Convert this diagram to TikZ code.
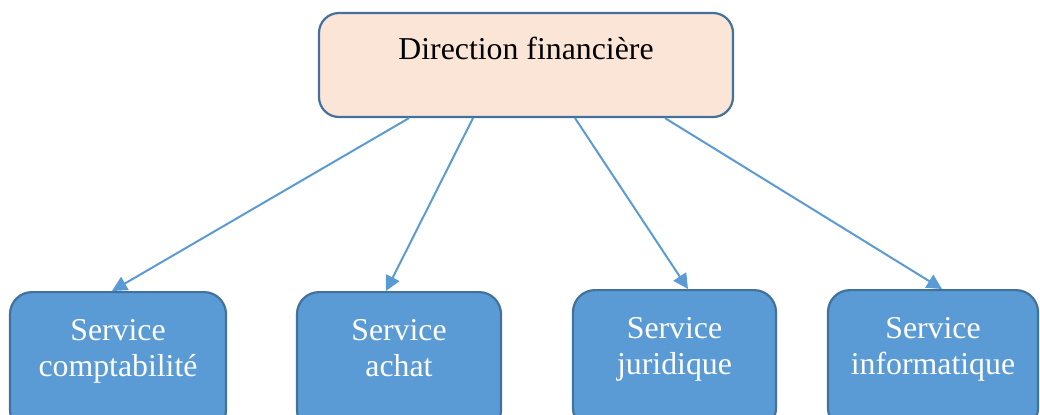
\documentclass[tikz,border=0pt]{standalone}
\usepackage{fontspec}
\setmainfont{Liberation Serif}
\usetikzlibrary{arrows.meta}
\definecolor{peach}{HTML}{FBE5D6}
\definecolor{bord}{HTML}{41719C}
\definecolor{accent}{HTML}{5B9BD5}
\begin{document}
\begin{tikzpicture}[x=0.5pt,y=-0.5pt,
  topbox/.style={draw=bord, fill=peach, line width=1.1pt, rounded corners=10pt,
    inner sep=0pt, minimum width=207pt, text height=23pt, text depth=29pt,
    font=\fontsize{15.9}{18}\selectfont, text=black},
  servbox/.style={draw=bord, fill=accent, line width=1.1pt, rounded corners=11pt,
    inner sep=0pt, text height=42pt, text depth=28pt, align=center, anchor=north,
    font=\fontsize{15.9}{18}\selectfont, text=white},
  link/.style={draw=accent, line width=1pt, -{Triangle[length=7.5pt,width=7.5pt]}}]
\useasboundingbox (0,0) rectangle (1040,414);
\clip (0,0) rectangle (1040,414);
\node[topbox] (dir) at (526,65) {Direction financière};
\node[servbox, minimum width=108pt] (c1) at (118,291) {Service\\comptabilité};
\node[servbox, minimum width=102pt] (c2) at (399,291) {Service\\achat};
\node[servbox, minimum width=101.5pt] (c3) at (674.5,289) {Service\\juridique};
\node[servbox, minimum width=105pt] (c4) at (933,289) {Service\\informatique};
\draw[link] ([xshift=-58.5pt]dir.south) -- ([xshift=-3pt]c1.north);
\draw[link] ([xshift=-26.5pt]dir.south) -- ([xshift=-6.5pt]c2.north);
\draw[link] ([xshift=24.5pt]dir.south) -- ([xshift=6.75pt]c3.north);
\draw[link] ([xshift=69.5pt]dir.south) -- ([xshift=4.5pt]c4.north);
\end{tikzpicture}
\end{document}
